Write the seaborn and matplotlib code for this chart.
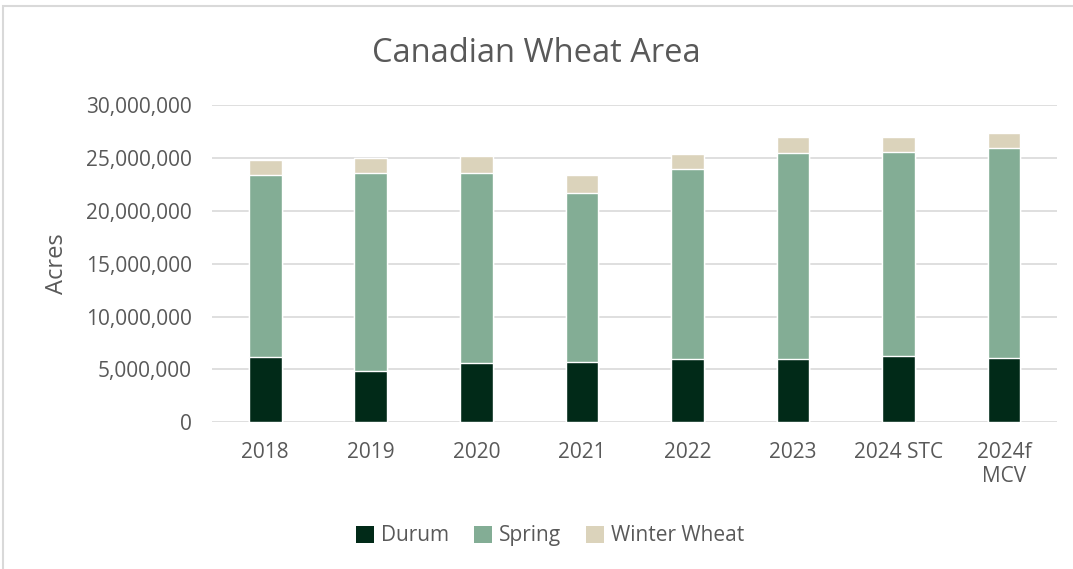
import numpy as np
import pandas as pd
import matplotlib.pyplot as plt
import seaborn as sns
from matplotlib.patches import Rectangle, Patch
from matplotlib.ticker import FuncFormatter

# Canadian wheat area by class (acres)
years = ["2018", "2019", "2020", "2021", "2022", "2023", "2024 STC", "2024f\nMCV"]
durum = [6170000, 4880000, 5640000, 5730000, 6000000, 6000000, 6280000, 6120000]
spring = [17260000, 18710000, 17920000, 15970000, 17960000, 19500000, 19290000, 19860000]
winter = [1390000, 1390000, 1610000, 1700000, 1420000, 1520000, 1450000, 1420000]

colors = {"Durum": "#012A18", "Spring": "#83AD95", "Winter Wheat": "#DBD3BB"}
text_gray = "#595959"

sns.set_theme(style="white")
plt.rcParams["font.family"] = ["Open Sans", "DejaVu Sans"]

df = pd.DataFrame({"year": years, "Durum": durum, "Spring": spring, "Winter Wheat": winter})
df["spring_top"] = df["Durum"] + df["Spring"]
df["total"] = df["spring_top"] + df["Winter Wheat"]

fig = plt.figure(figsize=(10.73, 5.69), dpi=100)
ax = fig.add_axes([0.198, 0.258, 0.787, 0.557])

# stack by overdrawing cumulative heights
for col, key in [("total", "Winter Wheat"), ("spring_top", "Spring"), ("Durum", "Durum")]:
    sns.barplot(data=df, x="year", y=col, color=colors[key], width=0.31,
                saturation=1, ax=ax, zorder=3)

ax.set_ylim(0, 30000000)
ax.set_yticks(np.arange(0, 30000001, 5000000))
ax.yaxis.set_major_formatter(FuncFormatter(lambda v, p: f"{int(v):,}"))
ax.grid(axis="y", color="#D9D9D9", linewidth=1.2, zorder=0)
ax.set_axisbelow(True)
for s in ax.spines.values():
    s.set_visible(False)
ax.tick_params(axis="both", length=0, labelsize=15, labelcolor=text_gray)
ax.tick_params(axis="y", pad=15)
ax.tick_params(axis="x", pad=14)
ax.set_xlabel("")
ax.set_ylabel("Acres", fontsize=17, color=text_gray, labelpad=12)
ax.set_xlim(-0.5, len(years) - 0.5)

fig.suptitle("Canadian Wheat Area", x=0.5, y=0.935, fontsize=23.5, color=text_gray)

handles = [Patch(facecolor=colors[k], edgecolor="none") for k in ["Durum", "Spring", "Winter Wheat"]]
fig.legend(handles, ["Durum", "Spring", "Winter Wheat"], loc="center", bbox_to_anchor=(0.513, 0.058),
           ncol=3, frameon=False, fontsize=15, labelcolor=text_gray, handlelength=0.85,
           handleheight=0.85, columnspacing=1.2, handletextpad=0.35)

fig.add_artist(Rectangle((0.003, -0.01), 1.0, 1.0, transform=fig.transFigure, fill=False,
                         edgecolor="#D9D9D9", linewidth=1.5))

fig.savefig("out.png", dpi=100, facecolor="white")
